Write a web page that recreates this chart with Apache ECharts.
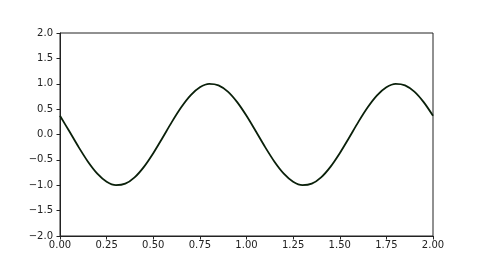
<!DOCTYPE html>
<html><head><meta charset="utf-8">
<script src="https://cdn.jsdelivr.net/npm/echarts@6/dist/echarts.min.js"></script>
<style>html,body{margin:0;padding:0;background:#fff}#c{width:480px;height:270px}</style>
</head><body><div id="c"></div>
<script>
const xValues = [0.00,0.05,0.10,0.15,0.20,0.25,0.30,0.35,0.40,0.45,0.50,0.55,0.60,0.65,0.70,0.75,0.80,0.85,0.90,0.95,
  1.00,1.05,1.10,1.15,1.20,1.25,1.30,1.35,1.40,1.45,1.50,1.55,1.60,1.65,1.70,1.75,1.80,1.85,1.90,1.95,2.00];
const yValues = [0.368,0.063,-0.249,-0.536,-0.771,-0.930,-0.998,-0.969,-0.844,-0.637,-0.368,-0.063,0.249,0.536,0.771,0.930,0.998,0.969,0.844,0.637,
  0.368,0.063,-0.249,-0.536,-0.771,-0.930,-0.998,-0.969,-0.844,-0.637,-0.368,-0.063,0.249,0.536,0.771,0.930,0.998,0.969,0.844,0.637,0.368];
const xTicks = ['0.00','0.25','0.50','0.75','1.00','1.25','1.50','1.75','2.00'];
const yTicks = ['−2.0','−1.5','−1.0','−0.5','0.0','0.5','1.0','1.5','2.0'];

const chart = echarts.init(document.getElementById('c'), null, {renderer:'canvas'});
const font = {fontFamily:'DejaVu Sans', fontSize:10, color:'#222'};
chart.setOption({
  animation:false,
  grid:{left:60,right:47,top:33,bottom:34,show:true,borderColor:'#222',borderWidth:1,backgroundColor:'transparent'},
  xAxis:{type:'value',min:0,max:2,interval:0.25,
    axisLine:{show:true,onZero:false,lineStyle:{color:'#222',width:1}},
    axisTick:{show:true,inside:false,length:3.5,lineStyle:{color:'#222'}},
    splitLine:{show:false},
    axisLabel:Object.assign({margin:4,formatter:v=>xTicks[Math.round(v/0.25)],showMinLabel:true,showMaxLabel:true},font)},
  yAxis:{type:'value',min:-2,max:2,interval:0.5,
    axisLine:{show:true,onZero:false,lineStyle:{color:'#222',width:1}},
    axisTick:{show:true,inside:false,length:3.5,lineStyle:{color:'#222'}},
    splitLine:{show:false},
    axisLabel:Object.assign({margin:7,formatter:v=>yTicks[Math.round((v+2)/0.5)],showMinLabel:true,showMaxLabel:true},font)},
  series:[{type:'line',data:xValues.map((x,i)=>[x,yValues[i]]),smooth:0.3,showSymbol:false,
    lineStyle:{color:'#0a200a',width:1.8}}]
});
</script></body></html>
